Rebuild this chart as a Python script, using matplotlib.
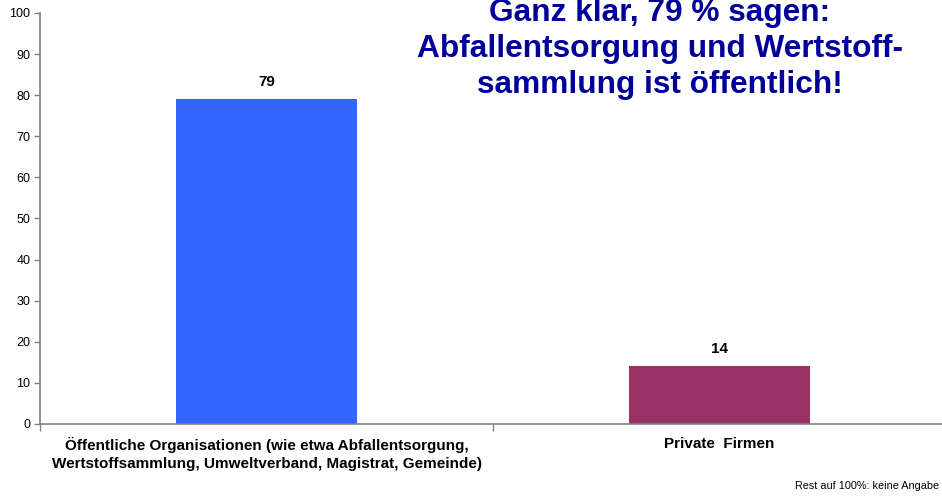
import matplotlib
matplotlib.use("Agg")
import matplotlib.pyplot as plt
import matplotlib.ticker as mticker

plt.rcParams["font.family"] = ["Liberation Sans", "DejaVu Sans"]

categories = [
    "Öffentliche Organisationen (wie etwa Abfallentsorgung,\nWertstoffsammlung, Umweltverband, Magistrat, Gemeinde)",
    "Private  Firmen",
]
values = [79, 14]
bar_colors = ["#3366FF", "#993366"]
y_ticks = list(range(0, 101, 10))
headline = "Ganz klar, 79 % sagen:\nAbfallentsorgung und Wertstoff-\nsammlung ist öffentlich!"
footnote = "Rest auf 100%: keine Angabe"

fig = plt.figure(figsize=(9.42, 4.96), dpi=100)
ax = fig.add_axes([40 / 942, 72 / 496, 906 / 942, 411 / 496])

x = list(range(len(categories)))
ax.bar(x, values, width=0.4, color=bar_colors, zorder=2)
for xi, v in zip(x, values):
    ax.annotate(f"{v}", (xi, v), xytext=(0, 12.5), textcoords="offset points",
                ha="center", va="center", fontsize=11, fontweight="bold")

ax.set_xlim(-0.5, len(categories) - 0.5)
ax.set_ylim(0, 100)
ax.set_yticks(y_ticks)
ax.tick_params(axis="y", labelsize=9, length=4, width=1, color="#808080", pad=3)

ax.set_xticks(x)
ax.set_xticklabels(categories, fontsize=11, fontweight="bold", linespacing=1.4)
ax.tick_params(axis="x", which="major", length=0, pad=9)
ax.xaxis.set_minor_locator(mticker.FixedLocator([-0.5, 0.5, 1.5]))
ax.tick_params(axis="x", which="minor", length=5, width=1, color="#808080")

for side in ["top", "right"]:
    ax.spines[side].set_visible(False)
for side in ["left", "bottom"]:
    ax.spines[side].set_color("#808080")
    ax.spines[side].set_linewidth(1.2)

# headline sits partly above the top edge, as in the original slide
fig.text(660 / 942, 1 - 49 / 496, headline, ha="center", va="center",
         fontsize=22.8, fontweight="bold", color="#000099", linespacing=1.25)
fig.text(939 / 942, 1 - 486 / 496, footnote, ha="right", va="center", fontsize=7.8)

fig.savefig("out.png", dpi=100)
